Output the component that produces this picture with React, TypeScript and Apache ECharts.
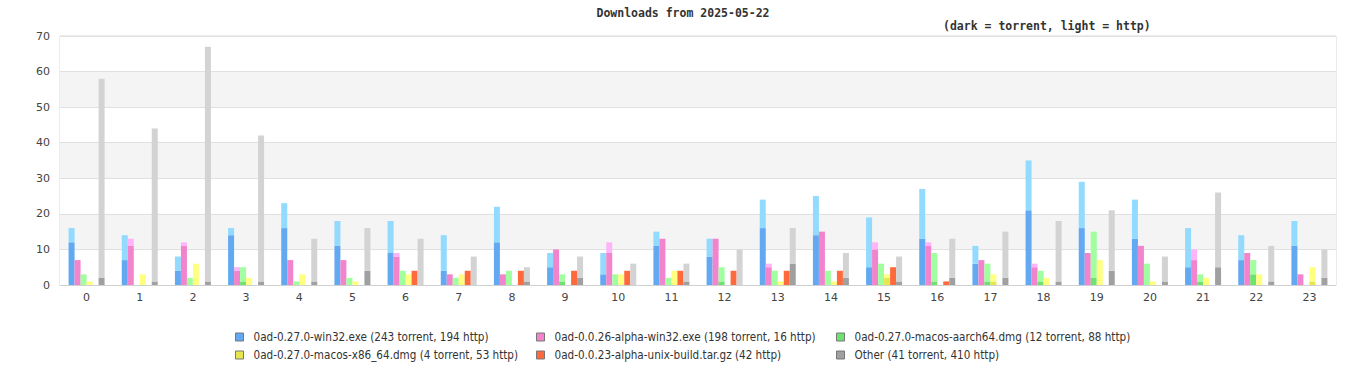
import React, { useEffect, useRef } from "react";
import * as echarts from "echarts";

const hours = ["0","1","2","3","4","5","6","7","8","9","10","11","12","13","14","15","16","17","18","19","20","21","22","23"];

const legendLabels = [
  "0ad-0.27.0-win32.exe (243 torrent, 194 http)",
  "0ad-0.0.26-alpha-win32.exe (198 torrent, 16 http)",
  "0ad-0.27.0-macos-aarch64.dmg (12 torrent, 88 http)",
  "0ad-0.27.0-macos-x86_64.dmg (4 torrent, 53 http)",
  "0ad-0.0.23-alpha-unix-build.tar.gz (42 http)",
  "Other (41 torrent, 410 http)",
];

const win32Torrent = [12,7,4,14,16,11,9,4,12,5,3,11,8,16,14,5,13,6,21,16,13,5,7,11];
const win32Http = [4,7,4,2,7,7,9,10,10,4,6,4,5,8,11,14,14,5,14,13,11,11,7,7];

const alphaWin32Torrent = [7,11,11,4,7,7,8,3,3,10,9,13,13,5,15,10,11,7,5,9,11,7,9,3];
const alphaWin32Http = [0,2,1,1,0,0,1,0,0,0,3,0,0,1,0,2,1,0,1,0,0,3,0,0];

const aarch64Torrent = [0,0,0,1,0,0,0,0,0,1,0,0,1,0,0,0,1,1,1,2,0,1,3,0];
const aarch64Http = [3,0,2,4,1,2,4,2,4,2,3,2,4,4,4,6,8,5,3,13,6,2,4,0];

const x86Torrent = [0,0,0,0,0,0,0,0,0,0,0,0,0,0,0,2,0,1,0,0,0,0,0,1];
const x86Http = [1,3,6,2,3,1,3,3,0,0,3,4,0,1,1,1,0,2,2,7,1,2,3,4];

const unixTorrent = [0,0,0,0,0,0,0,0,0,0,0,0,0,0,0,0,0,0,0,0,0,0,0,0];
const unixHttp = [0,0,0,0,0,0,4,4,4,4,4,4,4,4,4,5,1,0,0,0,0,0,0,0];

const otherTorrent = [2,1,1,1,1,4,0,0,1,2,0,1,0,6,2,1,2,2,1,4,1,5,1,2];
const otherHttp = [56,43,66,41,12,12,13,8,4,6,6,5,10,10,7,7,11,13,17,17,7,21,10,8];

const darkColors = ["#62a9f2", "#f283cd", "#6ee26e", "#e6e64f", "#ff6a3d", "#a0a0a0"];
const lightColors = ["#93daff", "#ffb3f9", "#a0ff9f", "#ffff80", "#ff6a3d", "#d3d3d3"];

const torrentData = [win32Torrent, alphaWin32Torrent, aarch64Torrent, x86Torrent, unixTorrent, otherTorrent];
const httpData = [win32Http, alphaWin32Http, aarch64Http, x86Http, unixHttp, otherHttp];

const legendPos = [
  { left: 235, top: 331 },
  { left: 536, top: 331 },
  { left: 836, top: 331 },
  { left: 235, top: 349 },
  { left: 536, top: 349 },
  { left: 836, top: 349 },
];

export default function App() {
  const ref = useRef<HTMLDivElement>(null);

  useEffect(() => {
    if (!ref.current) return;
    const chart = echarts.init(ref.current, undefined, { renderer: "svg" });

    const series: any[] = [];
    legendLabels.forEach((label, i) => {
      series.push({
        name: label,
        type: "bar",
        stack: "s" + i,
        barWidth: 6,
        barGap: "0%",
        itemStyle: { color: darkColors[i] },
        data: torrentData[i],
      });
      series.push({
        name: label + " [http]",
        type: "bar",
        stack: "s" + i,
        barWidth: 6,
        barGap: "0%",
        itemStyle: { color: lightColors[i] },
        data: httpData[i],
      });
    });

    const legendFont = {
      fontFamily: "'Liberation Sans Narrow', 'DejaVu Sans Condensed', 'Liberation Sans', sans-serif",
      fontSize: 11.6,
      color: "#333",
      padding: [0, 0, 0, 5],
    };

    chart.setOption({
      animation: false,
      backgroundColor: "#ffffff",
      title: [
        {
          text: "Downloads from 2025-05-22",
          left: "center",
          top: 7,
          padding: 0,
          textStyle: { fontFamily: "'DejaVu Sans Mono', monospace", fontWeight: "bold", fontSize: 11.5, color: "#333" },
        },
        {
          text: "(dark = torrent, light = http)",
          left: 943,
          top: 20,
          padding: 0,
          textStyle: { fontFamily: "'DejaVu Sans Mono', monospace", fontWeight: "bold", fontSize: 11.5, color: "#333" },
        },
      ],
      legend: legendLabels.map((label, i) => ({
        data: [label],
        left: legendPos[i].left,
        top: legendPos[i].top,
        padding: 0,
        icon: "rect",
        itemWidth: 8,
        itemHeight: 8,
        itemStyle: { borderColor: "#777", borderWidth: 1 },
        textStyle: legendFont,
      })),
      grid: {
        left: 60,
        right: 30,
        top: 36,
        bottom: 95,
        show: true,
        borderColor: "#d8d8d8",
        borderWidth: 1,
        backgroundColor: "transparent",
      },
      xAxis: {
        type: "category",
        data: hours,
        axisTick: { show: false },
        axisLine: { lineStyle: { color: "#d0d0d0" } },
        axisLabel: { color: "#444", fontSize: 11, fontFamily: "'DejaVu Sans', sans-serif", margin: 7 },
      },
      yAxis: {
        type: "value",
        min: 0,
        max: 70,
        interval: 10,
        axisLine: { show: false },
        axisTick: { show: false },
        axisLabel: { color: "#444", fontSize: 11, fontFamily: "'DejaVu Sans', sans-serif", margin: 10 },
        splitLine: { lineStyle: { color: "#e0e0e0" } },
        splitArea: { show: true, areaStyle: { color: ["#ffffff", "#f4f4f4"] } },
      },
      series,
    });

    return () => chart.dispose();
  }, []);

  return (
    <div
      ref={ref}
      style={{ position: "absolute", left: 0, top: 0, width: 1366, height: 380 }}
    />
  );
}
